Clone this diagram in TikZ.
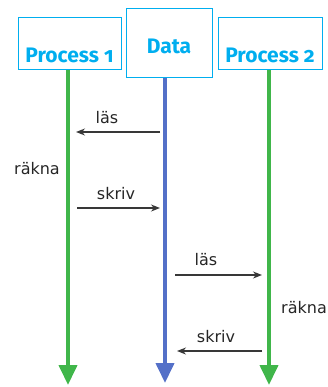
\documentclass[tikz,border=0pt]{standalone}
\usepackage{fontspec}
\setmainfont{DejaVu Sans}
\newfontfamily\boxfont{Fira Sans}[Numbers=OldStyle]
\usetikzlibrary{arrows.meta}
\definecolor{boxcyan}{RGB}{0,174,239}
\definecolor{lifegreen}{RGB}{64,182,74}
\definecolor{lifeblue}{RGB}{84,112,200}
\tikzset{
  procbox/.style={draw=boxcyan, line width=1pt, inner sep=0pt, text=boxcyan,
    font=\boxfont\bfseries\fontsize{21}{24}\selectfont},
  lifeline/.style={line width=4pt, -{Triangle[width=18pt,length=20pt]}},
  msg/.style={draw=black!78, line width=1.4pt, -{Stealth[length=9pt,width=7pt]}},
  msglabel/.style={font=\fontsize{16}{18}\selectfont, text=black!85, inner sep=0pt, anchor=base}
}
\begin{document}
\begin{tikzpicture}[x=1pt,y=-1pt]
\useasboundingbox (0,0) rectangle (328,387);
% boxes
\node[procbox, minimum width=103pt, text height=45pt, text depth=7pt] (p1) at (69.5,44) {Process 1};
\node[procbox, minimum width=86pt, text height=45pt, text depth=24pt] (d) at (169,43.5) {Data};
\node[procbox, minimum width=104pt, text height=45pt, text depth=7pt] (p2) at (270,44) {Process 2};
% lifeline ends
\coordinate (e1) at (68,385);
\coordinate (ed) at (165,383);
\coordinate (e2) at (269,385);
\draw[lifeline, lifegreen] (p1.south -| e1) -- (e1);
\draw[lifeline, lifeblue] (d.south -| ed) -- (ed);
\draw[lifeline, lifegreen] (p2.south -| e2) -- (e2);
% message end points
\coordinate (m1a) at (160,132); \coordinate (m1b) at (76,132);
\coordinate (m2a) at (77,208);  \coordinate (m2b) at (160,208);
\coordinate (m3a) at (175,275); \coordinate (m3b) at (262,275);
\coordinate (m4a) at (262,351); \coordinate (m4b) at (177,351);
\draw[msg] (m1a) -- (m1b);
\draw[msg] (m2a) -- (m2b);
\draw[msg] (m3a) -- (m3b);
\draw[msg] (m4a) -- (m4b);
% labels
\node[msglabel] (l1) at (107,124) {läs};
\node[msglabel] (l2) at (116,199) {skriv};
\node[msglabel] (l3) at (206,265) {läs};
\node[msglabel] (l4) at (216,342) {skriv};
\node[msglabel] (r1) at (37,175) {räkna};
\node[msglabel] (r2) at (304,313) {räkna};
\end{tikzpicture}
\end{document}
